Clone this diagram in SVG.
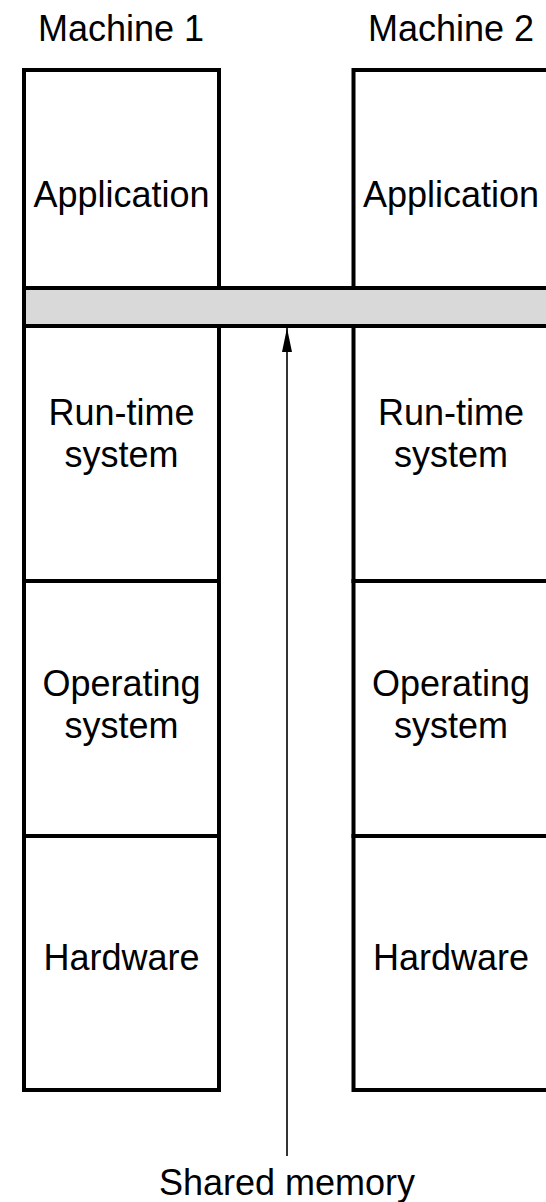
<svg xmlns="http://www.w3.org/2000/svg" width="546" height="1202" viewBox="0 0 546 1202">
<style>
  .box { fill: #fff; stroke: #000; stroke-width: 4; }
  .bar { fill: #d9d9d9; stroke: #000; stroke-width: 4; }
  .lbl { font-family: "Liberation Sans", Arial, sans-serif; font-size: 36px; fill: #000; text-anchor: middle; }
  .conn { stroke: #000; stroke-width: 1.6; fill: none; }
</style>
<defs>
  <marker id="arrow" viewBox="-24 -5 24 10" refX="0" refY="0" markerWidth="24" markerHeight="10" markerUnits="userSpaceOnUse" orient="auto">
    <path d="M0,0 L-24,-5 L-24,5 Z" fill="#000"/>
  </marker>
</defs>
<rect width="546" height="1202" fill="#fff"/>
<g id="machine1-title"><text class="lbl" x="121" y="41">Machine 1</text></g>
<g id="machine2-title"><text class="lbl" x="451" y="41">Machine 2</text></g>

<g id="m1-application"><rect class="box" x="24" y="70" width="195" height="218"/><text class="lbl" x="121.5" y="207">Application</text></g>
<g id="m1-runtime"><rect class="box" x="24" y="326" width="195" height="255"/><text class="lbl" x="121.5" y="425">Run-time</text><text class="lbl" x="121.5" y="467">system</text></g>
<g id="m1-os"><rect class="box" x="24" y="581" width="195" height="255"/><text class="lbl" x="121.5" y="696">Operating</text><text class="lbl" x="121.5" y="738">system</text></g>
<g id="m1-hardware"><rect class="box" x="24" y="836" width="195" height="254"/><text class="lbl" x="121.5" y="970">Hardware</text></g>

<g id="m2-application"><rect class="box" x="353.5" y="70" width="195" height="218"/><text class="lbl" x="451" y="207">Application</text></g>
<g id="m2-runtime"><rect class="box" x="353.5" y="326" width="195" height="255"/><text class="lbl" x="451" y="425">Run-time</text><text class="lbl" x="451" y="467">system</text></g>
<g id="m2-os"><rect class="box" x="353.5" y="581" width="195" height="255"/><text class="lbl" x="451" y="696">Operating</text><text class="lbl" x="451" y="738">system</text></g>
<g id="m2-hardware"><rect class="box" x="353.5" y="836" width="195" height="254"/><text class="lbl" x="451" y="970">Hardware</text></g>

<g id="shared-memory-bar"><rect class="bar" x="24" y="288" width="530" height="38"/></g>

<g id="connectors">
  <line class="conn" x1="287" y1="1156" x2="287" y2="328" marker-end="url(#arrow)"/>
</g>
<g id="shared-memory-label"><text class="lbl" x="287" y="1195">Shared memory</text></g>
</svg>
